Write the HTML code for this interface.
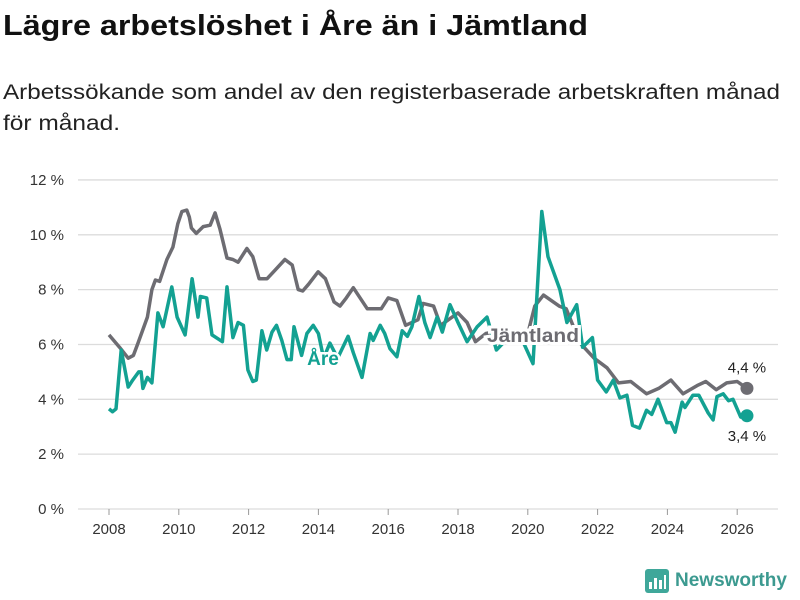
<!DOCTYPE html>
<html><head><meta charset="utf-8">
<style>
body{margin:0;background:#fff;font-family:"Liberation Sans","DejaVu Sans",sans-serif;}
#wrap{position:relative;width:800px;height:600px;overflow:hidden;}
</style></head><body>
<div id="wrap">
<svg width="800" height="140" style="position:absolute;left:0;top:0">
<text x="3" y="35" font-size="29" font-weight="bold" fill="#111" textLength="585" lengthAdjust="spacingAndGlyphs">Lägre arbetslöshet i Åre än i Jämtland</text>
<text x="3" y="99" font-size="21" fill="#222" textLength="777" lengthAdjust="spacingAndGlyphs">Arbetssökande som andel av den registerbaserade arbetskraften månad</text>
<text x="3" y="130" font-size="21" fill="#222" textLength="117" lengthAdjust="spacingAndGlyphs">för månad.</text>
</svg>
<svg id="chart" width="800" height="600" style="position:absolute;left:0;top:0"></svg>
</div>
<script>
const yTicks=[0,2,4,6,8,10,12];
const yTickLabels=["0 %","2 %","4 %","6 %","8 %","10 %","12 %"];
const xTicks=[2008,2010,2012,2014,2016,2018,2020,2022,2024,2026];
const jamtYears=[2008.0,2008.3,2008.55,2008.7,2008.83,2009.1,2009.23,2009.33,2009.45,2009.66,2009.83,2009.97,2010.09,2010.23,2010.3,2010.36,2010.5,2010.7,2010.9,2011.04,2011.18,2011.38,2011.55,2011.7,2011.95,2012.12,2012.3,2012.53,2012.75,2013.04,2013.25,2013.42,2013.55,2013.72,2013.99,2014.2,2014.45,2014.62,2014.8,2015.0,2015.4,2015.8,2016.0,2016.25,2016.5,2016.85,2017.0,2017.3,2017.5,2018.0,2018.26,2018.5,2018.8,2019.2,2019.6,2020.0,2020.2,2020.45,2020.9,2021.1,2021.5,2021.9,2022.27,2022.6,2022.95,2023.4,2023.75,2024.1,2024.45,2024.85,2025.1,2025.4,2025.7,2026.0,2026.28];
const jamtValues=[6.35,5.9,5.5,5.6,6.05,7.0,8.0,8.35,8.3,9.1,9.55,10.4,10.85,10.9,10.65,10.25,10.05,10.3,10.35,10.8,10.2,9.15,9.1,9.0,9.5,9.2,8.4,8.4,8.7,9.1,8.9,8.0,7.95,8.2,8.65,8.4,7.55,7.4,7.7,8.07,7.3,7.3,7.7,7.6,6.7,6.9,7.5,7.4,6.7,7.15,6.8,6.1,6.4,6.5,6.3,6.4,7.4,7.8,7.4,7.3,6.05,5.5,5.15,4.6,4.65,4.2,4.4,4.7,4.2,4.5,4.65,4.35,4.6,4.65,4.4];
const areYears=[2008.0,2008.1,2008.2,2008.35,2008.55,2008.68,2008.85,2008.92,2008.97,2009.1,2009.23,2009.4,2009.55,2009.8,2009.95,2010.18,2010.38,2010.55,2010.62,2010.8,2010.95,2011.25,2011.38,2011.55,2011.7,2011.85,2011.98,2012.12,2012.22,2012.38,2012.52,2012.67,2012.8,2012.95,2013.1,2013.22,2013.3,2013.52,2013.67,2013.85,2014.0,2014.15,2014.33,2014.55,2014.85,2015.0,2015.25,2015.48,2015.57,2015.77,2015.9,2016.05,2016.25,2016.4,2016.55,2016.68,2016.88,2017.05,2017.2,2017.4,2017.55,2017.77,2018.0,2018.26,2018.55,2018.83,2019.1,2019.4,2019.7,2019.9,2020.15,2020.4,2020.58,2020.92,2021.12,2021.4,2021.57,2021.85,2022.0,2022.25,2022.45,2022.64,2022.84,2023.0,2023.2,2023.4,2023.55,2023.73,2023.98,2024.1,2024.22,2024.42,2024.5,2024.73,2024.9,2025.17,2025.31,2025.42,2025.6,2025.75,2025.88,2026.1,2026.28];
const areValues=[3.65,3.55,3.65,5.8,4.45,4.7,5.0,5.0,4.4,4.8,4.6,7.15,6.65,8.1,7.0,6.35,8.4,7.0,7.75,7.7,6.35,6.1,8.1,6.25,6.8,6.7,5.07,4.65,4.7,6.5,5.8,6.45,6.7,6.15,5.45,5.45,6.65,5.6,6.4,6.7,6.4,5.5,6.05,5.5,6.3,5.7,4.8,6.4,6.15,6.7,6.4,5.85,5.55,6.5,6.3,6.65,7.75,6.8,6.25,7.0,6.45,7.45,6.8,6.1,6.65,7.0,5.8,6.2,6.5,6.0,5.3,10.85,9.2,8.0,6.8,7.45,5.9,6.25,4.7,4.27,4.7,4.05,4.15,3.05,2.95,3.6,3.45,4.0,3.15,3.15,2.8,3.9,3.7,4.15,4.15,3.5,3.25,4.1,4.2,3.95,4.0,3.35,3.4];

const NS="http://www.w3.org/2000/svg";
const svg=document.getElementById('chart');
const x0=78,x1=778;
function X(yr){return 109+(yr-2008)*34.9;}
function Y(v){return 509-v*27.42;}
function mk(tag,attrs,parent){const e=document.createElementNS(NS,tag);for(const k in attrs)e.setAttribute(k,attrs[k]);(parent||svg).appendChild(e);return e;}

yTicks.forEach((t,i)=>{
  const g=mk('line',{x1:x0,x2:x1,y1:Y(t),y2:Y(t),stroke:'#dcdcdc','stroke-width':1.3});
  
  
  const l=mk('text',{x:64,y:Y(t)+5,'text-anchor':'end','font-size':15,fill:'#333'});
  l.textContent=yTickLabels[i];
  
  
});
xTicks.forEach(t=>{
  const tk=mk('line',{x1:X(t),x2:X(t),y1:509,y2:515,stroke:'#999','stroke-width':1});
  
  
  const l=mk('text',{x:X(t),y:534,'text-anchor':'middle','font-size':15,fill:'#333'});
  l.textContent=String(t);
  
  
});
function pathOf(xs,vs){return xs.map((yr,i)=>(i?'L':'M')+X(yr).toFixed(1)+','+Y(vs[i]).toFixed(1)).join('');}
const jl=mk('path',{d:pathOf(jamtYears,jamtValues),fill:'none',stroke:'#6d6c72','stroke-width':3.5,'stroke-linejoin':'round'});


const al=mk('path',{d:pathOf(areYears,areValues),fill:'none',stroke:'#13a192','stroke-width':3.5,'stroke-linejoin':'round'});



const jEnd=jamtValues.length-1,aEnd=areValues.length-1;
const jd=mk('circle',{cx:X(jamtYears[jEnd]),cy:Y(jamtValues[jEnd]),r:6.5,fill:'#6d6c72'});


const ad=mk('circle',{cx:X(areYears[aEnd]),cy:Y(areValues[aEnd]),r:6.5,fill:'#13a192'});


const jv=mk('text',{x:X(jamtYears[jEnd]),y:Y(jamtValues[jEnd])-16,'text-anchor':'middle','font-size':15,fill:'#222'});
jv.textContent=String(jamtValues[jEnd]).replace('.',',')+' %';


const av=mk('text',{x:X(areYears[aEnd]),y:Y(areValues[aEnd])+25,'text-anchor':'middle','font-size':15,fill:'#222'});
av.textContent=String(areValues[aEnd]).replace('.',',')+' %';



const la=mk('text',{x:323,y:365,'text-anchor':'middle','font-size':19,'font-weight':'bold',fill:'#13a192',stroke:'#fff','stroke-width':5,'paint-order':'stroke'});
la.textContent='Åre';


const lj=mk('text',{x:533,y:342,'text-anchor':'middle','font-size':19,'font-weight':'bold',fill:'#6d6c72',stroke:'#fff','stroke-width':6,'paint-order':'stroke',textLength:92,lengthAdjust:'spacingAndGlyphs'});
lj.textContent='Jämtland';


</script>
<div style="position:absolute;left:645px;top:569px;display:flex;align-items:center">
<svg width="24" height="24"><rect x="0" y="0" width="24" height="24" rx="3" fill="#3fa79a"/><rect x="4" y="13" width="3" height="7" fill="#fff"/><rect x="9" y="9" width="3" height="11" fill="#fff"/><rect x="14" y="11" width="3" height="9" fill="#fff"/><rect x="19" y="6" width="2" height="14" fill="#fff"/></svg>
<span style="margin-left:6px;font-size:19px;font-weight:bold;color:#3c9a90">Newsworthy</span>
</div>
</body></html>
